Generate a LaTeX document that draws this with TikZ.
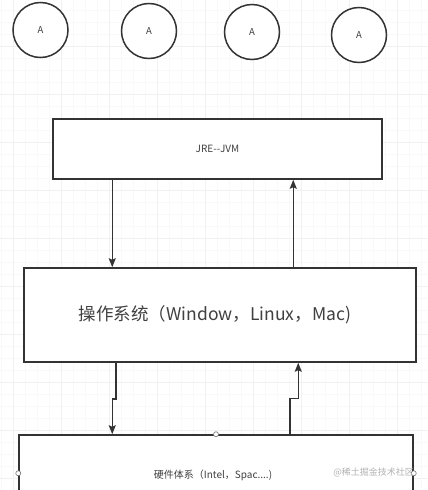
\documentclass[tikz,border=0pt]{standalone}
\usepackage{fontspec}
\setmainfont{Noto Sans CJK SC}
\usetikzlibrary{arrows.meta}
\tikzset{
  ln/.style={draw=black!80, line width=1.5pt},
  arr/.style={ln, -{Stealth[length=9pt,width=7pt,inset=1.5pt]}},
  circ/.style={circle, ln, fill=white, minimum size=55pt, inner sep=0pt, font=\fontsize{9.5}{11}\selectfont, text=black!75},
  box/.style={rectangle, ln, fill=white, inner sep=0pt, text=black!75},
  handle/.style={circle, draw=black!55, fill=white, line width=0.6pt, minimum size=5pt, inner sep=0pt},
}
\begin{document}
\begin{tikzpicture}[x=1pt, y=-1pt]
\useasboundingbox (0,0) rectangle (428,490);
\clip (0,0) rectangle (428,490);
\fill[white] (0,0) rectangle (428,490);
% faint grid
\draw[black!2.5, line width=0.5pt, shift={(1,10)}] (-12,-12) grid[step=12pt] (440,500);
\draw[black!5.5, line width=0.6pt, shift={(13,46)}] (-48,-48) grid[step=48pt] (440,500);

% circles
\node[circ] (c1) at (40.5,30) {A};
\node[circ] (c2) at (149,31) {A};
\node[circ] (c3) at (252,32) {A};
\node[circ] (c4) at (359,35) {A};

% boxes
\node[box, minimum width=329pt, minimum height=60pt, font=\fontsize{10}{12}\selectfont] (jre) at (217.5,149) {JRE-{}-JVM};
\node[box, minimum width=392pt, minimum height=94pt, font=\fontsize{17.5}{20}\selectfont] (os) at (220,315) {\hspace*{-10pt}操作系统（Window，Linux，Mac)};
\node[box, minimum width=394pt, minimum height=80pt, font=\fontsize{10}{12}\selectfont] (hw) at (216,475) {\hspace*{-6pt}硬件体系（Intel，Spac....)};

% connectors
\draw[arr] ([xshift=60pt]jre.south west) -- ([xshift=89pt]os.north west);
\draw[arr] ([xshift=270pt]os.north west) -- ([xshift=241pt]jre.south west);
\draw[arr] ([xshift=92.7pt]os.south west) -- ++(0,36) -| ([xshift=94pt]hw.north west);
\draw[arr] ([xshift=271.7pt]hw.north west) -- ++(0,-36) -| ([xshift=275pt]os.south west);

% handles
\node[handle] (h1) at (hw.north) {};
\node[handle] (h2) at ([yshift=-39pt]hw.north west) {};
\node[handle] (h3) at ([yshift=-39pt]hw.north east) {};

% watermark
\node[text=black!30, font=\fontsize{9}{10}\selectfont, anchor=east, inner sep=0pt] (wm) at (414,472) {@稀土掘金技术社区};
\end{tikzpicture}
\end{document}
